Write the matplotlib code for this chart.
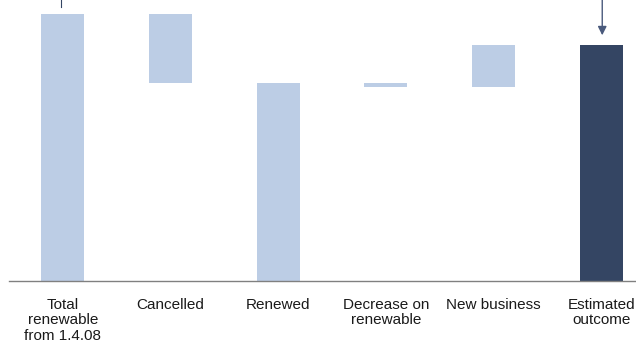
import matplotlib.pyplot as plt
import numpy as np

categories = ["Total\nrenewable\nfrom 1.4.08", "Cancelled", "Renewed",
              "Decrease on\nrenewable", "New business", "Estimated\noutcome"]
# waterfall steps: start total, change, subtotal, change, change, final total
bottoms = [0, 74.2, 0, 72.7, 72.7, 0]
heights = [100, 25.8, 74.2, 1.5, 15.7, 88.4]
colors = ["#bccde5", "#bccde5", "#bccde5", "#bccde5", "#bccde5", "#344563"]

plt.rcParams['font.family'] = ['Liberation Sans', 'DejaVu Sans']

fig = plt.figure(figsize=(6.36, 3.5), dpi=100)
ax = fig.add_axes([9 / 636, 69 / 350, 646 / 636, 281 / 350])

x = np.arange(len(categories))
ax.bar(x, heights, bottom=bottoms, width=0.4, color=colors,
       edgecolor="none")

ax.set_xlim(-0.5, 5.5)
ax.set_ylim(0, 105.2)
ax.set_xticks(x)
ax.set_xticklabels(categories, fontsize=11, color="#1a1a1a", linespacing=1.15)
ax.tick_params(axis="x", length=0, pad=12)
ax.set_yticks([])
for s in ["top", "right", "left"]:
    ax.spines[s].set_visible(False)
ax.spines["bottom"].set_color("#808080")
ax.spines["bottom"].set_linewidth(1)

# connector lines coming in from above the frame
ax.plot([-0.02, -0.02], [102.6, 112], color="#344563", lw=0.8, clip_on=False)
ax.annotate("", xy=(5.01, 92.0), xytext=(5.01, 112),
            arrowprops=dict(arrowstyle="-|>", color="#4a5a7c", lw=1.0,
                            mutation_scale=13, shrinkA=0, shrinkB=0),
            annotation_clip=False)

fig.savefig("out.png", dpi=100)
